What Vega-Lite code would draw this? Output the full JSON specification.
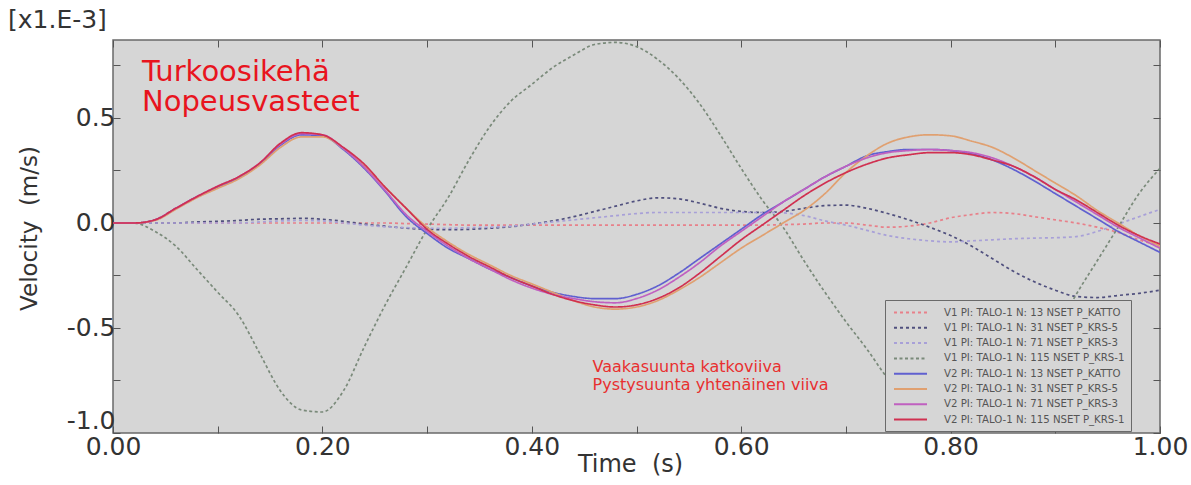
{
  "$schema": "https://vega.github.io/schema/vega-lite/v6.json",
  "width": 1047,
  "height": 393,
  "autosize": {"type": "none"},
  "padding": {"left": 113, "top": 40, "right": 31, "bottom": 52},
  "background": "white",
  "title": {"text": "[x1.E-3]", "anchor": "start", "frame": "group", "dx": -105, "offset": 7, "fontSize": 25, "fontWeight": "normal", "color": "#333333", "font": "DejaVu Sans"},
  "config": {
    "font": "DejaVu Sans",
    "view": {"fill": "#d6d6d6", "stroke": "#6a6a6a", "strokeWidth": 1.5},
    "legend": {
      "orient": "none", "legendX": 772, "legendY": 260, "title": null,
      "fillColor": "#d6d6d6", "strokeColor": "#6a6a6a", "padding": 6,
      "labelFontSize": 10.2, "labelColor": "#555555", "labelFont": "DejaVu Sans", "labelLimit": 400,
      "symbolType": "M-3,0H3", "symbolSize": 121, "symbolStrokeWidth": 2, "symbolOffset": 13, "rowPadding": 3.3, "labelOffset": 27
    }
  },
  "datasets": {
    "names": [
      {"s": "p", "name": "V1 PI: TALO-1 N: 13 NSET P_KATTO"},
      {"s": "q", "name": "V1 PI: TALO-1 N: 31 NSET P_KRS-5"},
      {"s": "r", "name": "V1 PI: TALO-1 N: 71 NSET P_KRS-3"},
      {"s": "g", "name": "V1 PI: TALO-1 N: 115 NSET P_KRS-1"},
      {"s": "B", "name": "V2 PI: TALO-1 N: 13 NSET P_KATTO"},
      {"s": "O", "name": "V2 PI: TALO-1 N: 31 NSET P_KRS-5"},
      {"s": "M", "name": "V2 PI: TALO-1 N: 71 NSET P_KRS-3"},
      {"s": "R", "name": "V2 PI: TALO-1 N: 115 NSET P_KRS-1"}
    ],
    "pts": [
      {"t":0,"s":"p","v":0},{"t":0.02,"s":"p","v":0},{"t":0.04,"s":"p","v":0},{"t":0.06,"s":"p","v":0},{"t":0.08,"s":"p","v":0},{"t":0.1,"s":"p","v":0},{"t":0.12,"s":"p","v":0},{"t":0.14,"s":"p","v":0},{"t":0.16,"s":"p","v":0},{"t":0.18,"s":"p","v":0},{"t":0.2,"s":"p","v":0},{"t":0.22,"s":"p","v":0},{"t":0.24,"s":"p","v":0},{"t":0.26,"s":"p","v":0},{"t":0.28,"s":"p","v":-0.003},{"t":0.3,"s":"p","v":-0.005},{"t":0.32,"s":"p","v":-0.008},{"t":0.34,"s":"p","v":-0.01},{"t":0.36,"s":"p","v":-0.01},{"t":0.38,"s":"p","v":-0.01},{"t":0.4,"s":"p","v":-0.01},{"t":0.42,"s":"p","v":-0.01},{"t":0.44,"s":"p","v":-0.01},{"t":0.46,"s":"p","v":-0.01},{"t":0.48,"s":"p","v":-0.01},{"t":0.5,"s":"p","v":-0.01},{"t":0.52,"s":"p","v":-0.01},{"t":0.54,"s":"p","v":-0.01},{"t":0.56,"s":"p","v":-0.01},{"t":0.58,"s":"p","v":-0.01},{"t":0.6,"s":"p","v":-0.01},{"t":0.62,"s":"p","v":-0.01},{"t":0.64,"s":"p","v":-0.008},{"t":0.66,"s":"p","v":-0.005},{"t":0.68,"s":"p","v":0},{"t":0.7,"s":"p","v":0},{"t":0.72,"s":"p","v":-0.01},{"t":0.74,"s":"p","v":-0.02},{"t":0.76,"s":"p","v":-0.015},{"t":0.78,"s":"p","v":0},{"t":0.8,"s":"p","v":0.025},{"t":0.82,"s":"p","v":0.04},{"t":0.84,"s":"p","v":0.05},{"t":0.86,"s":"p","v":0.045},{"t":0.88,"s":"p","v":0.03},{"t":0.9,"s":"p","v":0.015},{"t":0.92,"s":"p","v":0},{"t":0.94,"s":"p","v":-0.02},{"t":0.96,"s":"p","v":-0.045},{"t":0.98,"s":"p","v":-0.08},{"t":1,"s":"p","v":-0.11},
      {"t":0,"s":"q","v":0},{"t":0.02,"s":"q","v":0},{"t":0.04,"s":"q","v":0},{"t":0.06,"s":"q","v":0},{"t":0.08,"s":"q","v":0.005},{"t":0.1,"s":"q","v":0.008},{"t":0.12,"s":"q","v":0.012},{"t":0.14,"s":"q","v":0.018},{"t":0.16,"s":"q","v":0.02},{"t":0.18,"s":"q","v":0.022},{"t":0.2,"s":"q","v":0.018},{"t":0.22,"s":"q","v":0.008},{"t":0.24,"s":"q","v":-0.005},{"t":0.26,"s":"q","v":-0.015},{"t":0.28,"s":"q","v":-0.025},{"t":0.3,"s":"q","v":-0.03},{"t":0.32,"s":"q","v":-0.032},{"t":0.34,"s":"q","v":-0.03},{"t":0.36,"s":"q","v":-0.025},{"t":0.38,"s":"q","v":-0.018},{"t":0.4,"s":"q","v":-0.005},{"t":0.42,"s":"q","v":0.01},{"t":0.44,"s":"q","v":0.03},{"t":0.46,"s":"q","v":0.055},{"t":0.48,"s":"q","v":0.08},{"t":0.5,"s":"q","v":0.105},{"t":0.52,"s":"q","v":0.12},{"t":0.54,"s":"q","v":0.115},{"t":0.56,"s":"q","v":0.095},{"t":0.58,"s":"q","v":0.07},{"t":0.6,"s":"q","v":0.055},{"t":0.62,"s":"q","v":0.05},{"t":0.64,"s":"q","v":0.055},{"t":0.66,"s":"q","v":0.07},{"t":0.68,"s":"q","v":0.083},{"t":0.7,"s":"q","v":0.085},{"t":0.72,"s":"q","v":0.07},{"t":0.74,"s":"q","v":0.045},{"t":0.76,"s":"q","v":0.015},{"t":0.78,"s":"q","v":-0.02},{"t":0.8,"s":"q","v":-0.06},{"t":0.82,"s":"q","v":-0.11},{"t":0.84,"s":"q","v":-0.17},{"t":0.86,"s":"q","v":-0.23},{"t":0.88,"s":"q","v":-0.28},{"t":0.9,"s":"q","v":-0.32},{"t":0.92,"s":"q","v":-0.35},{"t":0.94,"s":"q","v":-0.355},{"t":0.96,"s":"q","v":-0.345},{"t":0.98,"s":"q","v":-0.335},{"t":1,"s":"q","v":-0.32},
      {"t":0,"s":"r","v":0},{"t":0.02,"s":"r","v":0},{"t":0.04,"s":"r","v":0},{"t":0.06,"s":"r","v":0},{"t":0.08,"s":"r","v":0},{"t":0.1,"s":"r","v":0},{"t":0.12,"s":"r","v":0},{"t":0.14,"s":"r","v":0.005},{"t":0.16,"s":"r","v":0.01},{"t":0.18,"s":"r","v":0.012},{"t":0.2,"s":"r","v":0.01},{"t":0.22,"s":"r","v":0},{"t":0.24,"s":"r","v":-0.01},{"t":0.26,"s":"r","v":-0.018},{"t":0.28,"s":"r","v":-0.022},{"t":0.3,"s":"r","v":-0.025},{"t":0.32,"s":"r","v":-0.025},{"t":0.34,"s":"r","v":-0.022},{"t":0.36,"s":"r","v":-0.02},{"t":0.38,"s":"r","v":-0.015},{"t":0.4,"s":"r","v":-0.005},{"t":0.42,"s":"r","v":0.005},{"t":0.44,"s":"r","v":0.015},{"t":0.46,"s":"r","v":0.025},{"t":0.48,"s":"r","v":0.035},{"t":0.5,"s":"r","v":0.045},{"t":0.52,"s":"r","v":0.05},{"t":0.54,"s":"r","v":0.05},{"t":0.56,"s":"r","v":0.05},{"t":0.58,"s":"r","v":0.05},{"t":0.6,"s":"r","v":0.05},{"t":0.62,"s":"r","v":0.05},{"t":0.64,"s":"r","v":0.048},{"t":0.66,"s":"r","v":0.035},{"t":0.68,"s":"r","v":0.01},{"t":0.7,"s":"r","v":-0.01},{"t":0.72,"s":"r","v":-0.035},{"t":0.74,"s":"r","v":-0.06},{"t":0.76,"s":"r","v":-0.075},{"t":0.78,"s":"r","v":-0.085},{"t":0.8,"s":"r","v":-0.09},{"t":0.82,"s":"r","v":-0.085},{"t":0.84,"s":"r","v":-0.08},{"t":0.86,"s":"r","v":-0.075},{"t":0.88,"s":"r","v":-0.072},{"t":0.9,"s":"r","v":-0.07},{"t":0.92,"s":"r","v":-0.065},{"t":0.94,"s":"r","v":-0.04},{"t":0.96,"s":"r","v":-0.005},{"t":0.98,"s":"r","v":0.03},{"t":1,"s":"r","v":0.065},
      {"t":0,"s":"g","v":0},{"t":0.02,"s":"g","v":0},{"t":0.04,"s":"g","v":-0.04},{"t":0.06,"s":"g","v":-0.11},{"t":0.08,"s":"g","v":-0.22},{"t":0.1,"s":"g","v":-0.33},{"t":0.12,"s":"g","v":-0.44},{"t":0.14,"s":"g","v":-0.62},{"t":0.16,"s":"g","v":-0.8},{"t":0.18,"s":"g","v":-0.89},{"t":0.2,"s":"g","v":-0.9},{"t":0.22,"s":"g","v":-0.8},{"t":0.24,"s":"g","v":-0.59},{"t":0.26,"s":"g","v":-0.39},{"t":0.28,"s":"g","v":-0.21},{"t":0.3,"s":"g","v":-0.03},{"t":0.32,"s":"g","v":0.12},{"t":0.34,"s":"g","v":0.3},{"t":0.36,"s":"g","v":0.46},{"t":0.38,"s":"g","v":0.58},{"t":0.4,"s":"g","v":0.66},{"t":0.42,"s":"g","v":0.74},{"t":0.44,"s":"g","v":0.8},{"t":0.46,"s":"g","v":0.85},{"t":0.48,"s":"g","v":0.86},{"t":0.5,"s":"g","v":0.84},{"t":0.52,"s":"g","v":0.78},{"t":0.54,"s":"g","v":0.69},{"t":0.56,"s":"g","v":0.57},{"t":0.58,"s":"g","v":0.42},{"t":0.6,"s":"g","v":0.26},{"t":0.62,"s":"g","v":0.11},{"t":0.64,"s":"g","v":-0.02},{"t":0.66,"s":"g","v":-0.18},{"t":0.68,"s":"g","v":-0.33},{"t":0.7,"s":"g","v":-0.47},{"t":0.72,"s":"g","v":-0.6},{"t":0.74,"s":"g","v":-0.74},{"t":0.76,"s":"g","v":-0.84},{"t":0.78,"s":"g","v":-0.9},{"t":0.8,"s":"g","v":-0.93},{"t":0.82,"s":"g","v":-0.93},{"t":0.84,"s":"g","v":-0.91},{"t":0.86,"s":"g","v":-0.84},{"t":0.88,"s":"g","v":-0.7},{"t":0.9,"s":"g","v":-0.52},{"t":0.92,"s":"g","v":-0.34},{"t":0.94,"s":"g","v":-0.18},{"t":0.96,"s":"g","v":-0.02},{"t":0.98,"s":"g","v":0.14},{"t":1,"s":"g","v":0.26},
      {"t":0,"s":"B","v":0},{"t":0.02,"s":"B","v":0},{"t":0.04,"s":"B","v":0.015},{"t":0.06,"s":"B","v":0.07},{"t":0.08,"s":"B","v":0.125},{"t":0.1,"s":"B","v":0.17},{"t":0.12,"s":"B","v":0.215},{"t":0.14,"s":"B","v":0.28},{"t":0.16,"s":"B","v":0.37},{"t":0.18,"s":"B","v":0.42},{"t":0.2,"s":"B","v":0.415},{"t":0.22,"s":"B","v":0.35},{"t":0.24,"s":"B","v":0.26},{"t":0.26,"s":"B","v":0.15},{"t":0.28,"s":"B","v":0.03},{"t":0.3,"s":"B","v":-0.05},{"t":0.32,"s":"B","v":-0.12},{"t":0.34,"s":"B","v":-0.17},{"t":0.36,"s":"B","v":-0.22},{"t":0.38,"s":"B","v":-0.26},{"t":0.4,"s":"B","v":-0.3},{"t":0.42,"s":"B","v":-0.33},{"t":0.44,"s":"B","v":-0.35},{"t":0.46,"s":"B","v":-0.36},{"t":0.48,"s":"B","v":-0.36},{"t":0.5,"s":"B","v":-0.34},{"t":0.52,"s":"B","v":-0.3},{"t":0.54,"s":"B","v":-0.24},{"t":0.56,"s":"B","v":-0.17},{"t":0.58,"s":"B","v":-0.1},{"t":0.6,"s":"B","v":-0.03},{"t":0.62,"s":"B","v":0.04},{"t":0.64,"s":"B","v":0.1},{"t":0.66,"s":"B","v":0.16},{"t":0.68,"s":"B","v":0.22},{"t":0.7,"s":"B","v":0.27},{"t":0.72,"s":"B","v":0.32},{"t":0.74,"s":"B","v":0.34},{"t":0.76,"s":"B","v":0.35},{"t":0.78,"s":"B","v":0.35},{"t":0.8,"s":"B","v":0.345},{"t":0.82,"s":"B","v":0.33},{"t":0.84,"s":"B","v":0.3},{"t":0.86,"s":"B","v":0.255},{"t":0.88,"s":"B","v":0.2},{"t":0.9,"s":"B","v":0.14},{"t":0.92,"s":"B","v":0.08},{"t":0.94,"s":"B","v":0.02},{"t":0.96,"s":"B","v":-0.04},{"t":0.98,"s":"B","v":-0.09},{"t":1,"s":"B","v":-0.14},
      {"t":0,"s":"O","v":0},{"t":0.02,"s":"O","v":0},{"t":0.04,"s":"O","v":0.012},{"t":0.06,"s":"O","v":0.065},{"t":0.08,"s":"O","v":0.12},{"t":0.1,"s":"O","v":0.165},{"t":0.12,"s":"O","v":0.21},{"t":0.14,"s":"O","v":0.275},{"t":0.16,"s":"O","v":0.36},{"t":0.18,"s":"O","v":0.41},{"t":0.2,"s":"O","v":0.41},{"t":0.22,"s":"O","v":0.355},{"t":0.24,"s":"O","v":0.27},{"t":0.26,"s":"O","v":0.17},{"t":0.28,"s":"O","v":0.07},{"t":0.3,"s":"O","v":-0.02},{"t":0.32,"s":"O","v":-0.09},{"t":0.34,"s":"O","v":-0.15},{"t":0.36,"s":"O","v":-0.2},{"t":0.38,"s":"O","v":-0.25},{"t":0.4,"s":"O","v":-0.29},{"t":0.42,"s":"O","v":-0.33},{"t":0.44,"s":"O","v":-0.37},{"t":0.46,"s":"O","v":-0.4},{"t":0.48,"s":"O","v":-0.41},{"t":0.5,"s":"O","v":-0.4},{"t":0.52,"s":"O","v":-0.37},{"t":0.54,"s":"O","v":-0.32},{"t":0.56,"s":"O","v":-0.26},{"t":0.58,"s":"O","v":-0.19},{"t":0.6,"s":"O","v":-0.12},{"t":0.62,"s":"O","v":-0.06},{"t":0.64,"s":"O","v":0},{"t":0.66,"s":"O","v":0.06},{"t":0.68,"s":"O","v":0.14},{"t":0.7,"s":"O","v":0.24},{"t":0.72,"s":"O","v":0.32},{"t":0.74,"s":"O","v":0.38},{"t":0.76,"s":"O","v":0.41},{"t":0.78,"s":"O","v":0.42},{"t":0.8,"s":"O","v":0.415},{"t":0.82,"s":"O","v":0.39},{"t":0.84,"s":"O","v":0.36},{"t":0.86,"s":"O","v":0.31},{"t":0.88,"s":"O","v":0.25},{"t":0.9,"s":"O","v":0.19},{"t":0.92,"s":"O","v":0.13},{"t":0.94,"s":"O","v":0.06},{"t":0.96,"s":"O","v":0},{"t":0.98,"s":"O","v":-0.06},{"t":1,"s":"O","v":-0.11},
      {"t":0,"s":"M","v":0},{"t":0.02,"s":"M","v":0},{"t":0.04,"s":"M","v":0.015},{"t":0.06,"s":"M","v":0.07},{"t":0.08,"s":"M","v":0.125},{"t":0.1,"s":"M","v":0.175},{"t":0.12,"s":"M","v":0.22},{"t":0.14,"s":"M","v":0.285},{"t":0.16,"s":"M","v":0.375},{"t":0.18,"s":"M","v":0.425},{"t":0.2,"s":"M","v":0.42},{"t":0.22,"s":"M","v":0.355},{"t":0.24,"s":"M","v":0.265},{"t":0.26,"s":"M","v":0.155},{"t":0.28,"s":"M","v":0.04},{"t":0.3,"s":"M","v":-0.04},{"t":0.32,"s":"M","v":-0.11},{"t":0.34,"s":"M","v":-0.17},{"t":0.36,"s":"M","v":-0.22},{"t":0.38,"s":"M","v":-0.27},{"t":0.4,"s":"M","v":-0.31},{"t":0.42,"s":"M","v":-0.34},{"t":0.44,"s":"M","v":-0.36},{"t":0.46,"s":"M","v":-0.375},{"t":0.48,"s":"M","v":-0.38},{"t":0.5,"s":"M","v":-0.36},{"t":0.52,"s":"M","v":-0.32},{"t":0.54,"s":"M","v":-0.26},{"t":0.56,"s":"M","v":-0.19},{"t":0.58,"s":"M","v":-0.11},{"t":0.6,"s":"M","v":-0.04},{"t":0.62,"s":"M","v":0.03},{"t":0.64,"s":"M","v":0.1},{"t":0.66,"s":"M","v":0.16},{"t":0.68,"s":"M","v":0.22},{"t":0.7,"s":"M","v":0.27},{"t":0.72,"s":"M","v":0.31},{"t":0.74,"s":"M","v":0.335},{"t":0.76,"s":"M","v":0.345},{"t":0.78,"s":"M","v":0.35},{"t":0.8,"s":"M","v":0.345},{"t":0.82,"s":"M","v":0.335},{"t":0.84,"s":"M","v":0.31},{"t":0.86,"s":"M","v":0.27},{"t":0.88,"s":"M","v":0.22},{"t":0.9,"s":"M","v":0.16},{"t":0.92,"s":"M","v":0.1},{"t":0.94,"s":"M","v":0.04},{"t":0.96,"s":"M","v":-0.02},{"t":0.98,"s":"M","v":-0.07},{"t":1,"s":"M","v":-0.12},
      {"t":0,"s":"R","v":0},{"t":0.02,"s":"R","v":0},{"t":0.04,"s":"R","v":0.015},{"t":0.06,"s":"R","v":0.07},{"t":0.08,"s":"R","v":0.125},{"t":0.1,"s":"R","v":0.175},{"t":0.12,"s":"R","v":0.22},{"t":0.14,"s":"R","v":0.285},{"t":0.16,"s":"R","v":0.38},{"t":0.18,"s":"R","v":0.43},{"t":0.2,"s":"R","v":0.42},{"t":0.22,"s":"R","v":0.36},{"t":0.24,"s":"R","v":0.28},{"t":0.26,"s":"R","v":0.17},{"t":0.28,"s":"R","v":0.07},{"t":0.3,"s":"R","v":-0.03},{"t":0.32,"s":"R","v":-0.1},{"t":0.34,"s":"R","v":-0.16},{"t":0.36,"s":"R","v":-0.21},{"t":0.38,"s":"R","v":-0.26},{"t":0.4,"s":"R","v":-0.3},{"t":0.42,"s":"R","v":-0.34},{"t":0.44,"s":"R","v":-0.37},{"t":0.46,"s":"R","v":-0.39},{"t":0.48,"s":"R","v":-0.4},{"t":0.5,"s":"R","v":-0.39},{"t":0.52,"s":"R","v":-0.36},{"t":0.54,"s":"R","v":-0.31},{"t":0.56,"s":"R","v":-0.24},{"t":0.58,"s":"R","v":-0.16},{"t":0.6,"s":"R","v":-0.08},{"t":0.62,"s":"R","v":-0.01},{"t":0.64,"s":"R","v":0.06},{"t":0.66,"s":"R","v":0.13},{"t":0.68,"s":"R","v":0.19},{"t":0.7,"s":"R","v":0.24},{"t":0.72,"s":"R","v":0.28},{"t":0.74,"s":"R","v":0.31},{"t":0.76,"s":"R","v":0.325},{"t":0.78,"s":"R","v":0.335},{"t":0.8,"s":"R","v":0.335},{"t":0.82,"s":"R","v":0.325},{"t":0.84,"s":"R","v":0.3},{"t":0.86,"s":"R","v":0.27},{"t":0.88,"s":"R","v":0.22},{"t":0.9,"s":"R","v":0.16},{"t":0.92,"s":"R","v":0.11},{"t":0.94,"s":"R","v":0.05},{"t":0.96,"s":"R","v":-0.01},{"t":0.98,"s":"R","v":-0.06},{"t":1,"s":"R","v":-0.1}
    ]
  },
  "layer": [
    {
      "data": {"name": "pts"},
      "transform": [{"lookup": "s", "from": {"data": {"name": "names"}, "key": "s", "fields": ["name"]}}],
      "mark": {"type": "line", "interpolate": "monotone", "strokeWidth": 1.7, "clip": true},
      "encoding": {
        "x": {
          "field": "t", "type": "quantitative",
          "scale": {"domain": [0, 1], "nice": false, "zero": false},
          "axis": {
            "orient": "bottom", "values": [0, 0.1, 0.2, 0.3, 0.4, 0.5, 0.6, 0.7, 0.8, 0.9, 1],
            "labelExpr": "round(datum.value*10) % 2 == 0 ? format(datum.value, '.2f') : ''",
            "tickSize": -7, "tickColor": "#555555", "tickWidth": 1, "domain": false, "grid": false,
            "labelFontSize": 25, "labelColor": "#333333", "labelPadding": 8, "labelFlush": false, "labelOverlap": false,
            "title": "Time \u00a0(s)", "titleFontSize": 24, "titleFontWeight": "normal", "titleColor": "#333333",
            "titleX": 517, "titleY": 38, "titleBaseline": "alphabetic"
          }
        },
        "y": {
          "field": "v", "type": "quantitative",
          "scale": {"domain": [-1, 0.8714], "nice": false, "zero": false},
          "axis": {
            "orient": "left", "values": [-1, -0.75, -0.5, -0.25, 0, 0.25, 0.5, 0.75],
            "labelExpr": "datum.value == -1 ? '-1.0' : datum.value == -0.5 ? '-0.5' : datum.value == 0 ? '0.0' : datum.value == 0.5 ? '0.5' : ''",
            "tickSize": -7, "tickColor": "#555555", "tickWidth": 1, "domain": false, "grid": false,
            "labelFontSize": 25, "labelColor": "#333333", "labelPadding": 5, "labelFlush": true, "labelFlushOffset": 0, "labelOverlap": false,
            "title": "Velocity \u00a0(m/s)", "titleFontSize": 23, "titleFontWeight": "normal", "titleColor": "#333333",
            "titleX": -84, "titleY": 188, "titleBaseline": "middle"
          }
        },
        "color": {
          "field": "name", "type": "nominal",
          "scale": {
            "domain": ["V1 PI: TALO-1 N: 13 NSET P_KATTO", "V1 PI: TALO-1 N: 31 NSET P_KRS-5", "V1 PI: TALO-1 N: 71 NSET P_KRS-3", "V1 PI: TALO-1 N: 115 NSET P_KRS-1", "V2 PI: TALO-1 N: 13 NSET P_KATTO", "V2 PI: TALO-1 N: 31 NSET P_KRS-5", "V2 PI: TALO-1 N: 71 NSET P_KRS-3", "V2 PI: TALO-1 N: 115 NSET P_KRS-1"],
            "range": ["#e8808a", "#50507e", "#a8a0d8", "#7a8a7a", "#6060d0", "#e0a070", "#c060c0", "#d03050"]
          }
        },
        "strokeDash": {
          "field": "name", "type": "nominal",
          "scale": {
            "domain": ["V1 PI: TALO-1 N: 13 NSET P_KATTO", "V1 PI: TALO-1 N: 31 NSET P_KRS-5", "V1 PI: TALO-1 N: 71 NSET P_KRS-3", "V1 PI: TALO-1 N: 115 NSET P_KRS-1", "V2 PI: TALO-1 N: 13 NSET P_KATTO", "V2 PI: TALO-1 N: 31 NSET P_KRS-5", "V2 PI: TALO-1 N: 71 NSET P_KRS-3", "V2 PI: TALO-1 N: 115 NSET P_KRS-1"],
            "range": [[3, 3], [3, 3], [3, 3], [3, 2.5], [1, 0], [1, 0], [1, 0], [1, 0]]
          }
        }
      }
    },
    {
      "data": {"values": [{}]},
      "mark": {"type": "text", "text": ["Turkoosikehä", "Nopeusvasteet"], "align": "left", "baseline": "alphabetic", "fontSize": 29, "lineHeight": 30, "font": "DejaVu Sans", "color": "#e8141e"},
      "encoding": {
        "x": {"datum": 0.0277, "type": "quantitative", "axis": {"orient": "top", "values": [0, 0.1, 0.2, 0.3, 0.4, 0.5, 0.6, 0.7, 0.8, 0.9, 1], "labels": false, "tickSize": -7, "tickColor": "#555555", "domain": false, "grid": false, "title": null}},
        "y": {"datum": 0.675, "type": "quantitative", "axis": {"orient": "right", "values": [-1, -0.75, -0.5, -0.25, 0, 0.25, 0.5, 0.75], "labels": false, "tickSize": -7, "tickColor": "#555555", "domain": false, "grid": false, "title": null}}
      }
    },
    {
      "data": {"values": [{}]},
      "mark": {"type": "text", "text": ["Vaakasuunta katkoviiva", "Pystysuunta yhtenäinen viiva"], "align": "left", "baseline": "alphabetic", "fontSize": 16, "lineHeight": 18, "font": "DejaVu Sans", "color": "#e83030"},
      "encoding": {
        "x": {"datum": 0.458, "type": "quantitative", "axis": null},
        "y": {"datum": -0.71, "type": "quantitative", "axis": null}
      }
    }
  ]
}
